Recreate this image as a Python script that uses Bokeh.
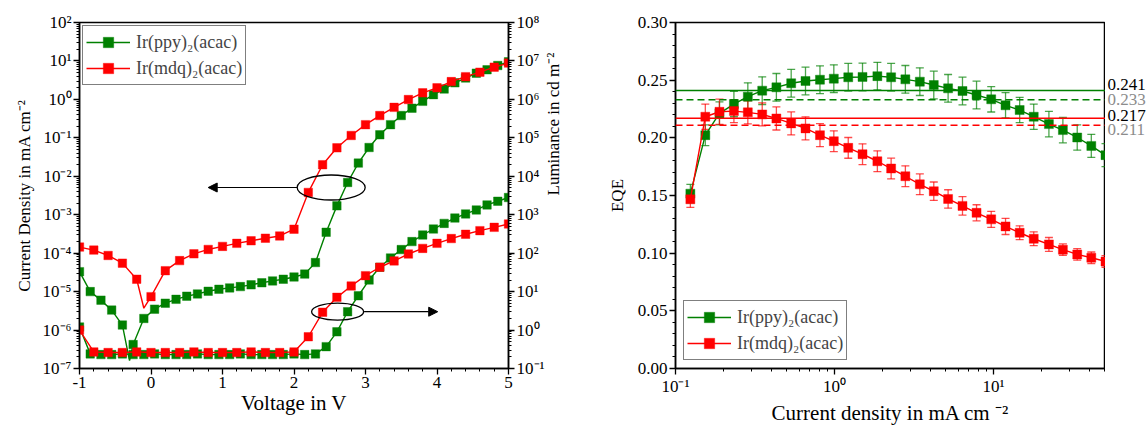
import math
from bokeh.plotting import figure
from bokeh.layouts import row
from bokeh.models import (Range1d, LogAxis, LogScale, FixedTicker, SingleIntervalTicker,
                          CustomJSTickFormatter, NumeralTickFormatter, Legend, LegendItem,
                          Arrow, NormalHead, Whisker, TeeHead, ColumnDataSource, Label, Span)
from bokeh.embed import file_html
from bokeh.resources import INLINE

FONT = "Liberation Serif"
GREEN = "#008000"
RED = "#ff0000"

# ---------------- data: J-V-L (left panel) ----------------
names = ["Ir(ppy)\u2082(acac)", "Ir(mdq)\u2082(acac)"]

v_ppy = [-1.0, -0.85, -0.7, -0.55, -0.4, -0.25, -0.1, 0.05, 0.2, 0.35, 0.5, 0.65, 0.8, 0.95,
         1.1, 1.25, 1.4, 1.55, 1.7, 1.85, 2.0, 2.15, 2.3, 2.45, 2.6, 2.75, 2.9, 3.05, 3.2,
         3.35, 3.5, 3.65, 3.8, 3.95, 4.1, 4.25, 4.4, 4.55, 4.7, 4.85, 5.0]
j_ppy = [3.3e-5, 1.0e-5, 6.0e-6, 3.3e-6, 1.35e-6, 4.2e-7, 2.0e-6, 3.5e-6, 5.0e-6, 6.3e-6,
         7.6e-6, 8.7e-6, 1.02e-5, 1.15e-5, 1.25e-5, 1.35e-5, 1.5e-5, 1.7e-5, 1.9e-5, 2.1e-5,
         2.4e-5, 2.85e-5, 5.7e-5, 3.5e-4, 1.7e-3, 6.9e-3, 0.022, 0.056, 0.12, 0.22, 0.38,
         0.59, 0.89, 1.33, 1.86, 2.7, 3.6, 4.8, 5.9, 7.6, 9.5]
j_ppy_dip = (-0.3, 1.6e-7)
l_ppy = [1.2, 0.24, 0.23, 0.23, 0.24, 0.23, 0.23, 0.24, 0.23, 0.23, 0.23, 0.24, 0.23, 0.23,
         0.23, 0.24, 0.23, 0.23, 0.23, 0.23, 0.24, 0.23, 0.24, 0.37, 0.90, 3.0, 7.8, 20, 43,
         75, 124, 200, 297, 425, 595, 820, 1050, 1330, 1800, 2240, 2800]

v_mdq = [-1.0, -0.8, -0.6, -0.4, -0.2, 0.0, 0.2, 0.4, 0.6, 0.8, 1.0, 1.2, 1.4, 1.6, 1.8,
         2.0, 2.2, 2.4, 2.6, 2.8, 3.0, 3.2, 3.4, 3.6, 3.8, 4.0, 4.2, 4.4, 4.6, 4.8, 5.0]
j_mdq = [1.44e-4, 1.2e-4, 8.7e-5, 5.5e-5, 2.1e-5, 7.4e-6, 3.5e-5, 6.4e-5, 9.6e-5, 1.25e-4,
         1.5e-4, 1.8e-4, 2.1e-4, 2.45e-4, 2.8e-4, 4.2e-4, 3.8e-3, 2.0e-2, 5.5e-2, 0.115,
         0.22, 0.38, 0.62, 0.99, 1.48, 2.0, 2.9, 3.9, 5.1, 6.9, 8.8]
j_mdq_dip = (-0.1, 3.7e-6)
l_mdq = [1.0, 0.27, 0.26, 0.26, 0.27, 0.26, 0.26, 0.26, 0.27, 0.26, 0.26, 0.26, 0.27, 0.26,
         0.26, 0.27, 0.67, 2.9, 7.1, 14, 26, 43, 63, 95, 133, 180, 240, 310, 385, 470, 575]

# ---------------- data: EQE (right panel) ----------------
jd = [0.124, 0.154, 0.189, 0.233, 0.285, 0.351, 0.431, 0.534, 0.657, 0.81, 0.99, 1.22, 1.50,
      1.86, 2.27, 2.79, 3.44, 4.21, 5.18, 6.38, 7.82, 9.67, 11.9, 14.6, 17.9, 22.3, 27.3,
      33.6, 41.2, 50.6]
eqe_ppy = [0.1516, 0.2023, 0.2212, 0.2293, 0.2357, 0.2409, 0.2438, 0.2473, 0.2493, 0.2504,
           0.2513, 0.2525, 0.2528, 0.2535, 0.2525, 0.2507, 0.2487, 0.2458, 0.2429, 0.2406,
           0.2371, 0.2334, 0.2282, 0.2241, 0.2183, 0.2119, 0.2067, 0.2003, 0.1930, 0.1850]
err_ppy = [0.008, 0.009, 0.010, 0.011, 0.012, 0.012, 0.012, 0.012, 0.012, 0.012, 0.012, 0.012,
           0.012, 0.012, 0.012, 0.012, 0.012, 0.012, 0.012, 0.012, 0.012, 0.011, 0.011, 0.011,
           0.011, 0.011, 0.011, 0.011, 0.010, 0.010]
eqe_mdq = [0.1467, 0.2183, 0.2226, 0.2232, 0.2221, 0.2203, 0.2168, 0.2125, 0.2082, 0.2023,
           0.1971, 0.1913, 0.1858, 0.1797, 0.1734, 0.1667, 0.1597, 0.1537, 0.1470, 0.1410,
           0.1350, 0.1293, 0.1232, 0.1177, 0.1125, 0.1076, 0.1030, 0.0989, 0.0960, 0.0928]
err_mdq = [0.007, 0.011, 0.011, 0.010, 0.010, 0.010, 0.010, 0.010, 0.010, 0.010, 0.009, 0.009,
           0.009, 0.009, 0.009, 0.009, 0.009, 0.008, 0.008, 0.008, 0.007, 0.007, 0.007, 0.006,
           0.006, 0.006, 0.005, 0.005, 0.005, 0.005]
ref_ppy = [0.241, 0.233]   # solid, dashed
ref_mdq = [0.217, 0.211]   # solid, dashed

decades_j = [-7, -6, -5, -4, -3, -2, -1, 0, 1, 2]
decades_l = [-1, 0, 1, 2, 3, 4, 5, 6, 7, 8]
decades_x = [-1, 0, 1]
eqe_ticks = [0.0, 0.05, 0.10, 0.15, 0.20, 0.25, 0.30]
eqe_minor = [i / 100 for i in range(0, 31)]

SUP_JS = """
const sup = {"-":"\u207b","0":"\u2070","1":"\u00b9","2":"\u00b2","3":"\u00b3","4":"\u2074",
             "5":"\u2075","6":"\u2076","7":"\u2077","8":"\u2078","9":"\u2079"};
const e = Math.round(Math.log10(tick));
return "10" + String(e).split("").map(c => sup[c]).join("");
"""
PLAIN_JS = "return String(Math.round(tick));"

H = 430
TOP = 22
BOT = 62


def log_ticker(decs):
    major = [10.0 ** d for d in decs]
    minor = [m * 10.0 ** d for d in decs for m in range(2, 10)]
    return FixedTicker(ticks=major, minor_ticks=minor)


def style_axis(ax, label_standoff=8, label_size="17px"):
    ax.axis_line_width = 1.5
    ax.axis_line_color = "black"
    ax.major_tick_in = 0
    ax.major_tick_out = 6
    ax.minor_tick_in = 0
    ax.minor_tick_out = 3
    ax.major_tick_line_width = 1.3
    ax.minor_tick_line_width = 1.0
    ax.major_label_text_font = FONT
    ax.major_label_text_font_size = "17px"
    ax.major_label_text_color = "black"
    ax.major_label_standoff = 2
    ax.axis_label_text_font = FONT
    ax.axis_label_text_font_size = label_size
    ax.axis_label_text_font_style = "normal"
    ax.axis_label_text_color = "black"
    ax.axis_label_standoff = label_standoff


# ---------------- left panel ----------------
p1 = figure(width=600, height=H, x_range=Range1d(-1, 5), y_range=Range1d(1e-7, 1e2),
            y_axis_type="log", output_backend="svg", toolbar_location=None,
            min_border_left=79, min_border_right=92, min_border_top=TOP, min_border_bottom=BOT)
p1.extra_y_ranges = {"lum": Range1d(1e-1, 1e8)}
p1.extra_y_scales = {"lum": LogScale()}
lum_axis = LogAxis(y_range_name="lum", axis_label="Luminance in cd m\u207b\u00b2")
p1.add_layout(lum_axis, "right")
p1.grid.visible = False
p1.outline_line_color = "black"
p1.outline_line_width = 1.5

p1.xaxis.ticker = SingleIntervalTicker(interval=1, num_minor_ticks=5)
p1.xaxis.formatter = CustomJSTickFormatter(code=PLAIN_JS)
p1.xaxis.axis_label = "Voltage in V"
p1.yaxis[0].ticker = log_ticker(decades_j)
p1.yaxis[0].formatter = CustomJSTickFormatter(code=SUP_JS)
p1.yaxis[0].axis_label = "Current Density in mA cm\u207b\u00b2"
lum_axis.ticker = log_ticker(decades_l)
lum_axis.formatter = CustomJSTickFormatter(code=SUP_JS)
style_axis(p1.xaxis[0], 0, "21px")
style_axis(p1.yaxis[0], 6)
style_axis(lum_axis, 6)
try:
    lum_axis.axis_label_orientation = math.pi / 2
except Exception:
    pass


def with_dip(v, y, dip):
    pts = sorted(list(zip(v, y)) + [dip])
    return [a for a, _ in pts], [b for _, b in pts]


legend_items = []
for v, j, l, dip, col, name in [(v_ppy, j_ppy, l_ppy, j_ppy_dip, GREEN, names[0]),
                                (v_mdq, j_mdq, l_mdq, j_mdq_dip, RED, names[1])]:
    lv, lj = with_dip(v, j, dip)
    r_line = p1.line(lv, lj, line_color=col, line_width=1.4)
    r_pts = p1.scatter(v, j, marker="square", size=8.5, fill_color=col, line_color=col,
                       line_alpha=0.4)
    p1.line(v, l, line_color=col, line_width=1.4, y_range_name="lum")
    p1.scatter(v, l, marker="square", size=8.5, fill_color=col, line_color=col, line_alpha=0.4,
               y_range_name="lum")
    legend_items.append(LegendItem(label=name, renderers=[r_line, r_pts]))

# ellipses + arrows
p1.ellipse(x=[2.52], y=[5.1e-3], width=68, height=25, width_units="screen",
           height_units="screen", fill_color=None, line_color="black", line_width=1.3)
p1.add_layout(Arrow(end=NormalHead(size=9, fill_color="black", line_color="black"),
                    x_start=2.045, y_start=5.1e-3, x_end=0.80, y_end=5.1e-3,
                    line_color="black", line_width=1.2))
p1.ellipse(x=[2.61], y=[3.0], width=52, height=17, width_units="screen",
           height_units="screen", fill_color=None, line_color="black", line_width=1.3,
           y_range_name="lum")
p1.add_layout(Arrow(end=NormalHead(size=9, fill_color="black", line_color="black"),
                    x_start=2.98, y_start=3.0, x_end=4.01, y_end=3.0, y_range_name="lum",
                    line_color="black", line_width=1.2))

leg1 = Legend(items=legend_items, location="top_left")
p1.add_layout(leg1)

# ---------------- right panel ----------------
eqe_range = Range1d(0, 0.30)
p2 = figure(width=505, height=H, x_range=Range1d(0.1, 50.6), y_range=eqe_range,
            x_axis_type="log", output_backend="svg", toolbar_location=None,
            min_border_left=75, min_border_right=0, min_border_top=TOP, min_border_bottom=BOT)
p2.grid.visible = False
p2.outline_line_color = "black"
p2.outline_line_width = 1.5
p2.xaxis.ticker = log_ticker(decades_x)
p2.xaxis.formatter = CustomJSTickFormatter(code=SUP_JS)
p2.xaxis.axis_label = "Current density in mA cm \u207b\u00b2"
p2.yaxis.ticker = FixedTicker(ticks=eqe_ticks, minor_ticks=eqe_minor)
p2.yaxis.formatter = NumeralTickFormatter(format="0.00")
p2.yaxis.axis_label = "EQE"
style_axis(p2.xaxis[0], 2, "21px")
style_axis(p2.yaxis[0], 8)

legend_items2 = []
for eqe, err, refs, col, name in [(eqe_ppy, err_ppy, ref_ppy, GREEN, names[0]),
                                  (eqe_mdq, err_mdq, ref_mdq, RED, names[1])]:
    src = ColumnDataSource(dict(x=jd, y=eqe, upper=[a + b for a, b in zip(eqe, err)],
                                lower=[a - b for a, b in zip(eqe, err)]))
    p2.add_layout(Span(location=refs[0], dimension="width", line_color=col, line_width=1.5))
    p2.add_layout(Span(location=refs[1], dimension="width", line_color=col, line_width=1.5,
                       line_dash="7 4"))
    p2.add_layout(Whisker(source=src, base="x", upper="upper", lower="lower",
                          line_color=col, line_alpha=0.7, line_width=1.3,
                          upper_head=TeeHead(size=8, line_color=col, line_alpha=0.7,
                                             line_width=1.3),
                          lower_head=TeeHead(size=8, line_color=col, line_alpha=0.7,
                                             line_width=1.3)))
    r_line = p2.line("x", "y", source=src, line_color=col, line_width=1.4)
    r_pts = p2.scatter("x", "y", source=src, marker="square", size=9, fill_color=col,
                       line_color=col, line_alpha=0.4)
    legend_items2.append(LegendItem(label=name, renderers=[r_line, r_pts]))

leg2 = Legend(items=legend_items2, location="bottom_left")
p2.add_layout(leg2)

# value labels to the right of the EQE frame (own narrow figure sharing the y range)
p3 = figure(width=41, height=H, x_range=Range1d(0, 1), y_range=eqe_range,
            output_backend="svg", toolbar_location=None, x_axis_location=None,
            y_axis_location=None, min_border_left=0, min_border_right=0,
            min_border_top=TOP, min_border_bottom=BOT)
p3.grid.visible = False
p3.outline_line_color = None
for val, col, dy in [(ref_ppy[0], "black", 6), (ref_ppy[1], "#8c8c8c", 0),
                     (ref_mdq[0], "black", 3), (ref_mdq[1], "#8c8c8c", -4)]:
    p3.add_layout(Label(x=0, y=val, text=f"{val:.3f}", x_offset=2, y_offset=dy,
                        text_font=FONT, text_font_size="17px", text_color=col,
                        text_baseline="middle", text_align="left"))

for leg, margin in [(leg1, 3), (leg2, 8)]:
    leg.margin = margin
    leg.padding = 3
    leg.spacing = 0
    leg.label_text_font = FONT
    leg.label_text_font_size = "18px"
    leg.label_height = 26
    leg.glyph_height = 26
    leg.glyph_width = 44
    leg.label_standoff = 6
    leg.border_line_color = "black"
    leg.border_line_width = 1.2
    leg.background_fill_alpha = 1.0

layout = row(p1, p2, p3)
open("out.html", "w").write(file_html(layout, INLINE))
